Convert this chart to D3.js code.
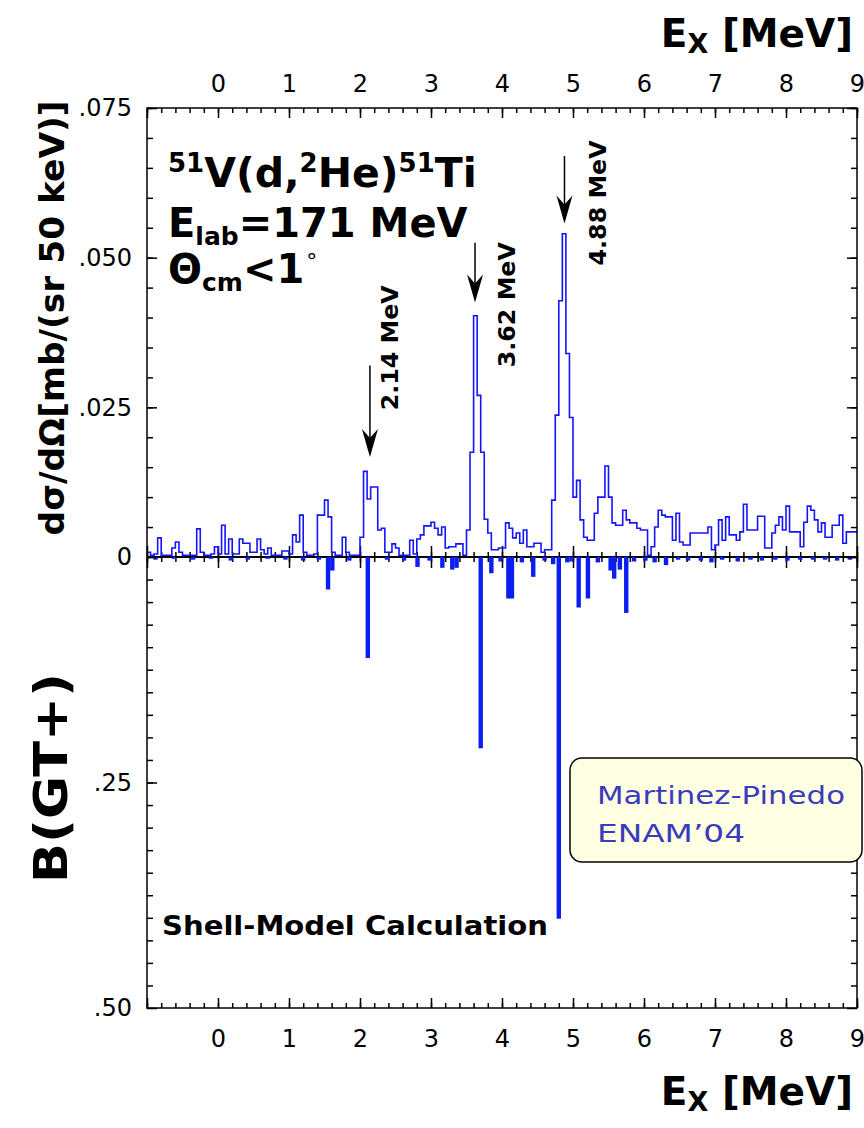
<!DOCTYPE html>
<html>
<head>
<meta charset="utf-8">
<script src="https://cdn.jsdelivr.net/npm/d3@7"></script>
<style>
  body { margin: 0; background: #fff; }
  text { font-family: "DejaVu Sans", sans-serif; }
</style>
</head>
<body>
<div id="chart"></div>
<script>
// measured spectrum, 50 keV bins from -1 to 9 MeV, mb/(sr 50 keV)
var binStart = -1;
var binWidth = 0.05;
var counts = [
  .0008,.0003,.0005,.0032,.0003,.0003,.0003,.0015,.0025,.0008,
  .0003,.0003,.0003,.0003,.0047,.0008,.0003,.0003,.0005,.0017,
  .0005,.0053,.0005,.0030,.0005,.0005,.0030,.0023,.0023,.0008,
  .0008,.0030,.0012,.0005,.0015,.0003,.0003,.0003,.0010,.0010,
  .0005,.0037,.0025,.0070,.0008,.0003,.0003,.0005,.0070,.0070,
  .0095,.0067,.0008,.0003,.0003,.0033,.0008,.0003,.0003,.0003,
  .0033,.0143,.0097,.0117,.0117,.0045,.0048,.0008,.0008,.0022,
  .0015,.0003,.0003,.0003,.0028,.0005,.0030,.0037,.0052,.0052,
  .0058,.0048,.0037,.0050,.0015,.0017,.0017,.0022,.0022,.0003,
  .0045,.0175,.0403,.0270,.0175,.0063,.0040,.0012,.0012,.0015,
  .0015,.0057,.0048,.0032,.0040,.0023,.0045,.0017,.0017,.0023,
  .0023,.0008,.0012,.0012,.0095,.0237,.0428,.0540,.0340,.0233,
  .0100,.0128,.0062,.0033,.0028,.0028,.0073,.0100,.0100,.0152,
  .0100,.0057,.0053,.0053,.0078,.0062,.0057,.0057,.0048,.0045,
  .0045,.0003,.0017,.0050,.0078,.0070,.0067,.0067,.0028,.0073,
  .0025,.0020,.0020,.0040,.0040,.0040,.0040,.0040,.0050,.0012,
  .0020,.0062,.0028,.0067,.0037,.0037,.0028,.0042,.0088,.0045,
  .0045,.0045,.0068,.0068,.0015,.0015,.0040,.0053,.0067,.0045,
  .0085,.0042,.0042,.0042,.0017,.0058,.0085,.0078,.0062,.0042,
  .0057,.0033,.0033,.0053,.0053,.0070,.0023,.0042,.0042,.0042
];

// shell-model B(GT+) lines
var gtEnergy = [-0.88,-0.62,-0.35,-0.1,0.18,0.42,0.7,0.95,1.2,1.42,
  1.55,1.61,1.85,2.11,2.38,2.62,2.81,2.98,3.16,3.30,3.36,3.70,3.85,3.98,
  4.09,4.14,4.28,4.44,4.6,4.72,4.80,4.92,4.98,5.08,5.21,5.35,5.53,5.58,
  5.66,5.75,5.86,6.02,6.15,6.31,6.48,6.62,6.8,6.95,7.1,7.32,7.5,7.66,
  7.85,8.02,8.2,8.38,8.55,8.72,8.9];
var gtStrength = [.003,.002,.003,.002,.004,.003,.002,.003,.004,.003,
  .036,.015,.004,.112,.003,.004,.011,.004,.012,.014,.012,.212,.018,.005,
  .046,.046,.006,.022,.004,.008,.401,.006,.005,.056,.046,.006,.015,.024,
  .014,.062,.005,.004,.006,.009,.003,.004,.004,.006,.003,.005,.003,.004,
  .003,.004,.003,.003,.003,.004,.003];

var xTickLabels = [0,1,2,3,4,5,6,7,8,9];
var csTicks = [0, 0.025, 0.05, 0.075];
var csTickLabels = ["0", ".025", ".050", ".075"];
var gtTicks = [0.25, 0.5];
var gtTickLabels = [".25", ".50"];

var peakEnergy = [2.14, 3.62, 4.88];
var peakLabels = ["2.14 MeV", "3.62 MeV", "4.88 MeV"];

var svg = d3.select("#chart").append("svg")
  .attr("width", 864).attr("height", 1128);

var x = d3.scaleLinear().domain([-1, 9]).range([147, 857]);
var yCs = d3.scaleLinear().domain([0, 0.075]).range([557, 108]);
var yGt = d3.scaleLinear().domain([0, 0.5]).range([557, 1008]);

function styleAxis(g) {
  g.select(".domain").remove();
  g.selectAll(".tick line").attr("stroke", "#000").attr("stroke-width", 1.5);
  g.selectAll(".tick text")
    .attr("fill", "#000")
    .style("font-family", '"DejaVu Sans", sans-serif')
    .style("font-size", "24px");
}

var majorE = d3.range(-1, 10);
var minorE = d3.range(-1, 9.01, 0.2);

// zero line with ticks both ways
svg.append("line").attr("x1", 147).attr("x2", 857).attr("y1", 557).attr("y2", 557)
  .attr("stroke", "#000").attr("stroke-width", 2);
[d3.axisTop, d3.axisBottom].forEach(function(ax) {
  svg.append("g").attr("transform", "translate(0,557)")
    .call(ax(x).tickValues(minorE).tickSize(5).tickFormat(""))
    .call(styleAxis);
  svg.append("g").attr("transform", "translate(0,557)")
    .call(ax(x).tickValues(majorE).tickSize(11).tickFormat(""))
    .call(styleAxis);
});

// B(GT+) bars
svg.append("g").selectAll("rect")
  .data(gtEnergy)
  .enter()
  .append("rect")
    .attr("x", function(d) { return x(d) - 2.2; })
    .attr("y", yGt(0))
    .attr("width", 4.4)
    .attr("height", function(d, i) { return yGt(gtStrength[i]) - yGt(0); })
    .attr("fill", "#0a1ef0");

// spectrum histogram
var histPts = counts.map(function(c, i) { return [binStart + i * binWidth, c]; });
histPts.push([binStart + counts.length * binWidth, counts[counts.length - 1]]);
var line = d3.line()
  .x(function(d) { return x(d[0]); })
  .y(function(d) { return yCs(d[1]); })
  .curve(d3.curveStepAfter);
svg.append("path")
  .datum(histPts)
  .attr("d", line)
  .attr("fill", "none")
  .attr("stroke", "#1414ff")
  .attr("stroke-width", 1.6);

// top axis
svg.append("g").attr("transform", "translate(0,108)")
  .call(d3.axisTop(x).tickValues(minorE).tickSize(-5).tickFormat(""))
  .call(styleAxis);
svg.append("g").attr("transform", "translate(0,108)")
  .call(d3.axisTop(x).tickValues(majorE).tickSize(-10).tickPadding(16)
    .tickFormat(function(d) { return xTickLabels.indexOf(d) < 0 ? "" : d; }))
  .call(styleAxis);

// bottom axis
svg.append("g").attr("transform", "translate(0,1008)")
  .call(d3.axisBottom(x).tickValues(minorE).tickSize(-5).tickFormat(""))
  .call(styleAxis);
svg.append("g").attr("transform", "translate(0,1008)")
  .call(d3.axisBottom(x).tickValues(majorE).tickSize(-10).tickPadding(22)
    .tickFormat(function(d) { return xTickLabels.indexOf(d) < 0 ? "" : d; }))
  .call(styleAxis);

// left / right axes
svg.append("g").attr("transform", "translate(147,0)")
  .call(d3.axisLeft(yCs).tickValues(d3.range(0, 0.0751, 0.005)).tickSize(-6).tickFormat(""))
  .call(styleAxis);
svg.append("g").attr("transform", "translate(147,0)")
  .call(d3.axisLeft(yCs).tickValues(csTicks).tickSize(-10).tickPadding(15)
    .tickFormat(function(d, i) { return csTickLabels[i]; }))
  .call(styleAxis);
svg.append("g").attr("transform", "translate(147,0)")
  .call(d3.axisLeft(yGt).tickValues(d3.range(0.025, 0.5, 0.025)).tickSize(-6).tickFormat(""))
  .call(styleAxis);
svg.append("g").attr("transform", "translate(147,0)")
  .call(d3.axisLeft(yGt).tickValues(gtTicks).tickSize(-10).tickPadding(15)
    .tickFormat(function(d, i) { return gtTickLabels[i]; }))
  .call(styleAxis);
svg.append("g").attr("transform", "translate(857,0)")
  .call(d3.axisRight(yCs).tickValues(d3.range(0, 0.0751, 0.005)).tickSize(-6).tickFormat(""))
  .call(styleAxis);
svg.append("g").attr("transform", "translate(857,0)")
  .call(d3.axisRight(yCs).tickValues(csTicks).tickSize(-10).tickFormat(""))
  .call(styleAxis);
svg.append("g").attr("transform", "translate(857,0)")
  .call(d3.axisRight(yGt).tickValues(d3.range(0.025, 0.5, 0.025)).tickSize(-6).tickFormat(""))
  .call(styleAxis);
svg.append("g").attr("transform", "translate(857,0)")
  .call(d3.axisRight(yGt).tickValues(gtTicks).tickSize(-10).tickFormat(""))
  .call(styleAxis);

// frame
svg.append("rect")
  .attr("x", 147).attr("y", 108).attr("width", 710).attr("height", 900)
  .attr("fill", "none").attr("stroke", "#000").attr("stroke-width", 1.5);

// axis titles
function exTitle(yBase) {
  var t = svg.append("text")
    .attr("x", 853).attr("y", yBase)
    .attr("text-anchor", "end")
    .attr("font-weight", "bold")
    .attr("font-size", 39);
  t.append("tspan").text("E");
  t.append("tspan").attr("font-size", 27).attr("dy", 6).text("X");
  t.append("tspan").attr("dy", -6).text(" [MeV]");
}
exTitle(47);
exTitle(1105);

svg.append("text")
  .attr("transform", "translate(64,318) rotate(-90)")
  .attr("text-anchor", "middle")
  .attr("font-weight", "bold")
  .attr("font-size", 33)
  .attr("textLength", 435)
  .attr("lengthAdjust", "spacingAndGlyphs")
  .text("d\u03c3/d\u03a9[mb/(sr 50 keV)]");

svg.append("text")
  .attr("transform", "translate(67,778) rotate(-90)")
  .attr("text-anchor", "middle")
  .attr("font-weight", "bold")
  .attr("font-size", 46)
  .attr("textLength", 210)
  .attr("lengthAdjust", "spacingAndGlyphs")
  .text("B(GT+)");

// reaction label
var r1 = svg.append("text").attr("x", 168).attr("y", 187)
  .attr("font-weight", "bold").attr("font-size", 41);
r1.append("tspan").attr("font-size", 26).attr("dy", -15).text("51");
r1.append("tspan").attr("dy", 15).text("V(d,");
r1.append("tspan").attr("font-size", 26).attr("dy", -15).text("2");
r1.append("tspan").attr("dy", 15).text("He)");
r1.append("tspan").attr("font-size", 26).attr("dy", -15).text("51");
r1.append("tspan").attr("dy", 15).text("Ti");

var r2 = svg.append("text").attr("x", 168).attr("y", 237)
  .attr("font-weight", "bold").attr("font-size", 40);
r2.append("tspan").text("E");
r2.append("tspan").attr("font-size", 25).attr("dy", 8).text("lab");
r2.append("tspan").attr("dy", -8).text("=171 MeV");

var r3 = svg.append("text").attr("x", 168).attr("y", 283)
  .attr("font-weight", "bold").attr("font-size", 40);
r3.append("tspan").text("\u0398");
r3.append("tspan").attr("font-size", 25).attr("dy", 8).text("cm");
r3.append("tspan").attr("dy", -8).text("<1");
r3.append("tspan").attr("font-size", 22).attr("font-weight", "normal").attr("dx", 2).attr("dy", -14).text("\u00b0");

// peak arrows and labels
var arrowTop = [0.032, 0.0525, 0.067];
var arrowTip = [0.0167, 0.0425, 0.0557];
var labelStart = [0.0245, 0.0317, 0.0487];
var labelDx = [28, 40, 42];

peakEnergy.forEach(function(e, i) {
  var ax = x(e), y0 = yCs(arrowTop[i]), y1 = yCs(arrowTip[i]);
  svg.append("line").attr("x1", ax).attr("x2", ax).attr("y1", y0).attr("y2", y1 - 10)
    .attr("stroke", "#000").attr("stroke-width", 1.5);
  svg.append("path")
    .attr("d", "M" + ax + "," + y1 + " L" + (ax - 8) + "," + (y1 - 28) +
      " L" + ax + "," + (y1 - 19) + " L" + (ax + 8) + "," + (y1 - 28) + " Z")
    .attr("fill", "#000");
  svg.append("text")
    .attr("transform", "translate(" + (ax + labelDx[i]) + "," + yCs(labelStart[i]) + ") rotate(-90)")
    .attr("font-weight", "bold")
    .attr("font-size", 23)
    .attr("textLength", 125)
    .attr("lengthAdjust", "spacingAndGlyphs")
    .text(peakLabels[i]);
});

svg.append("text")
  .attr("x", 162).attr("y", 935)
  .attr("font-weight", "bold").attr("font-size", 27)
  .attr("textLength", 386).attr("lengthAdjust", "spacingAndGlyphs")
  .text("Shell-Model Calculation");

// credit box
svg.append("rect")
  .attr("x", 570).attr("y", 758).attr("width", 292).attr("height", 104).attr("rx", 12)
  .attr("fill", "#ffffe4").attr("stroke", "#000").attr("stroke-width", 1.5);
svg.append("text").attr("x", 597).attr("y", 804)
  .attr("font-size", 25).attr("fill", "#3b3bbd")
  .attr("textLength", 248).attr("lengthAdjust", "spacingAndGlyphs")
  .text("Martinez-Pinedo");
svg.append("text").attr("x", 597).attr("y", 842)
  .attr("font-size", 25).attr("fill", "#3b3bbd")
  .attr("textLength", 148).attr("lengthAdjust", "spacingAndGlyphs")
  .text("ENAM\u201904");
</script>
</body>
</html>
